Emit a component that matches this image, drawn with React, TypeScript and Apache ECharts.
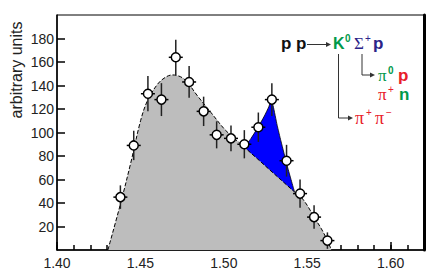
import React, { useEffect, useRef } from "react";
import * as echarts from "echarts";

// x-axis tick labels
const xTickLabels = [1.4, 1.45, 1.5, 1.55, 1.6];
// y-axis tick labels
const yTickLabels = [20, 40, 60, 80, 100, 120, 140, 160, 180];

// measured points (mass, counts, error)
const pointX = [1.438, 1.446, 1.4545, 1.4626, 1.4712, 1.4792, 1.4879, 1.4957, 1.5043, 1.5123, 1.5207, 1.5288, 1.5376, 1.5457, 1.5541, 1.5621];
const pointY = [45, 89, 133, 128, 164, 143, 118, 98, 95, 90, 104.5, 128, 76, 48, 28, 8];
const pointErr = [10, 12.5, 15, 14, 15, 13.5, 12.5, 11.5, 11, 12, 12.5, 14, 13.5, 12, 10, 7];

// background (gray) fit curve
const bgX = [1.4305, 1.4381, 1.4441, 1.4501, 1.4542, 1.4602, 1.465, 1.4692, 1.4762, 1.4843, 1.4923, 1.5003, 1.5063, 1.5123, 1.5203, 1.5283, 1.5363, 1.5424, 1.5457, 1.55, 1.5541, 1.5585, 1.5621, 1.5645];
const bgY = [0, 39.5, 73.5, 110, 127, 141, 147, 149, 145.5, 131, 117, 103, 95, 87.5, 77.4, 67.2, 57.1, 49.4, 46, 38, 28, 18, 8, 0];

// signal (blue) curve on top of the background
const sigX = [1.5123, 1.5163, 1.5203, 1.5243, 1.527, 1.5283, 1.5295, 1.532, 1.5342, 1.5382, 1.5424];
const sigY = [87.5, 95, 104, 114, 122, 127, 123, 106, 93, 70.6, 49.4];

const FONT = "Liberation Sans, Arial, sans-serif";
const SERIF = "Liberation Serif, Times New Roman, serif";
const GREEN = "#00994a";
const NAVY = "#2b2388";
const RED = "#e8202a";

function txt(text: string, x: number, y: number, size: number, fill: string, opts: any = {}) {
  return {
    type: "text",
    x,
    y,
    silent: true,
    style: {
      text,
      fill,
      fontSize: size,
      fontWeight: opts.weight || "normal",
      fontFamily: opts.family || FONT,
      align: "left",
      textAlign: "left",
      verticalAlign: "middle",
      textVerticalAlign: "middle",
    },
  };
}

function arrowLine(points: number[][]) {
  const last = points[points.length - 1];
  return [
    { type: "polyline", silent: true, shape: { points }, style: { stroke: "#333", lineWidth: 1, fill: null } },
    {
      type: "polygon",
      silent: true,
      shape: { points: [[last[0] + 4, last[1]], [last[0] - 1, last[1] - 2.5], [last[0] - 1, last[1] + 2.5]] },
      style: { fill: "#333" },
    },
  ];
}

export default function App() {
  const ref = useRef<HTMLDivElement>(null);
  useEffect(() => {
    if (!ref.current) return;
    const chart = echarts.init(ref.current, undefined, { renderer: "svg" });
    const errData = pointX.map((x, i) => [x, pointY[i], pointErr[i]]);
    const option: any = {
      animation: false,
      backgroundColor: "#fff",
      textStyle: { fontFamily: FONT },
      grid: { left: 57, right: 12, top: 15, bottom: 21, show: true, borderColor: "#000", borderWidth: 1, backgroundColor: "transparent" },
      xAxis: [
        {
          type: "value",
          min: 1.4,
          max: 1.62,
          interval: 0.05,
          axisLine: { show: true, lineStyle: { color: "#000", width: 1.5 } },
          axisTick: { show: true, inside: true, length: 8, customValues: xTickLabels, lineStyle: { color: "#000", width: 1.5 } },
          axisLabel: { show: true, customValues: xTickLabels, formatter: (v: number) => v.toFixed(2), fontSize: 14, color: "#222", margin: 6, fontFamily: FONT },
          splitLine: { show: false },
        },
        {
          type: "value",
          position: "bottom",
          min: 1.4,
          max: 1.62,
          interval: 0.01,
          axisLine: { show: false },
          axisTick: { show: true, inside: true, length: 5, lineStyle: { color: "#000", width: 1.5 } },
          axisLabel: { show: false },
          splitLine: { show: false },
        },
      ],
      yAxis: [
        {
          type: "value",
          min: 0,
          max: 200,
          interval: 20,
          axisLine: { show: true, lineStyle: { color: "#000", width: 1.5 } },
          axisTick: { show: true, inside: true, length: 8, customValues: yTickLabels, lineStyle: { color: "#000", width: 1.5 } },
          axisLabel: { show: true, customValues: yTickLabels, fontSize: 14, color: "#222", margin: 3, fontFamily: FONT },
          splitLine: { show: false },
        },
        {
          type: "value",
          position: "right",
          min: 0,
          max: 200,
          axisLine: { show: true, onZero: false, lineStyle: { color: "#000", width: 3 } },
          axisTick: { show: false },
          axisLabel: { show: false },
          splitLine: { show: false },
        },
      ],
      series: [
        {
          type: "line",
          data: sigX.map((x, i) => [x, sigY[i]]),
          smooth: 0.2,
          showSymbol: false,
          symbol: "none",
          lineStyle: { color: "#000", width: 0.8 },
          areaStyle: { color: "#0000ff", opacity: 1 },
          z: 2,
        },
        {
          type: "line",
          data: bgX.map((x, i) => [x, bgY[i]]),
          smooth: 0.35,
          showSymbol: false,
          symbol: "none",
          lineStyle: { color: "#000", width: 1, type: [4, 2] },
          areaStyle: { color: "#bdbdbd", opacity: 1 },
          z: 3,
        },
        {
          type: "custom",
          data: errData,
          encode: { x: 0, y: 1 },
          z: 5,
          renderItem: (params: any, api: any) => {
            const x = api.value(0);
            const y = api.value(1);
            const e = api.value(2);
            const c = api.coord([x, y]);
            const t = api.coord([x, y + e]);
            const b = api.coord([x, Math.max(0, y - e)]);
            return {
              type: "group",
              children: [
                { type: "line", shape: { x1: c[0], y1: t[1], x2: c[0], y2: b[1] }, style: { stroke: "#222", lineWidth: 1.5 } },
                { type: "line", shape: { x1: c[0] - 7, y1: c[1], x2: c[0] + 7, y2: c[1] }, style: { stroke: "#000", lineWidth: 1.5 } },
                { type: "circle", shape: { cx: c[0], cy: c[1], r: 4.5 }, style: { fill: "#fff", stroke: "#000", lineWidth: 1.5 } },
              ],
            };
          },
        },
      ],
      graphic: [
        {
          type: "text",
          x: 16,
          y: 70,
          rotation: Math.PI / 2,
          silent: true,
          style: {
            text: "arbitrary units",
            fill: "#222",
            fontSize: 16,
            fontFamily: FONT,
            align: "center",
            textAlign: "center",
            verticalAlign: "middle",
            textVerticalAlign: "middle",
          },
        },
        // reaction line 1
        txt("p p", 281, 43, 17, "#111", { weight: "bold" }),
        ...arrowLine([[307, 44.5], [327, 44.5]]),
        txt("K", 333, 43, 16, GREEN, { weight: "bold" }),
        txt("0", 345, 38, 10, GREEN, { weight: "bold" }),
        txt("Σ", 354, 43, 17, NAVY, { family: SERIF }),
        txt("+", 365, 38, 10, NAVY),
        txt("p", 373, 43, 17, NAVY, { weight: "bold" }),
        // decay of Sigma
        ...arrowLine([[362, 54], [362, 75], [371, 75]]),
        txt("π", 378, 75.5, 17, GREEN, { family: SERIF }),
        txt("0", 388, 70, 10, GREEN, { weight: "bold" }),
        txt("p", 398, 75, 17, RED, { weight: "bold" }),
        txt("π", 378, 94.5, 17, RED, { family: SERIF }),
        txt("+", 388, 89, 10, RED),
        txt("n", 399, 94, 17, GREEN, { weight: "bold" }),
        // decay of K0
        ...arrowLine([[338.5, 54], [338.5, 118], [349, 118]]),
        txt("π", 355, 118, 18, RED, { family: SERIF }),
        txt("+", 366, 112, 10, RED),
        txt("π", 375, 118, 18, RED, { family: SERIF }),
        txt("−", 386, 112, 10, RED),
      ],
    };
    chart.setOption(option);
    return () => chart.dispose();
  }, []);
  return <div ref={ref} style={{ position: "fixed", left: 0, top: 0, width: 436, height: 271 }} />;
}
